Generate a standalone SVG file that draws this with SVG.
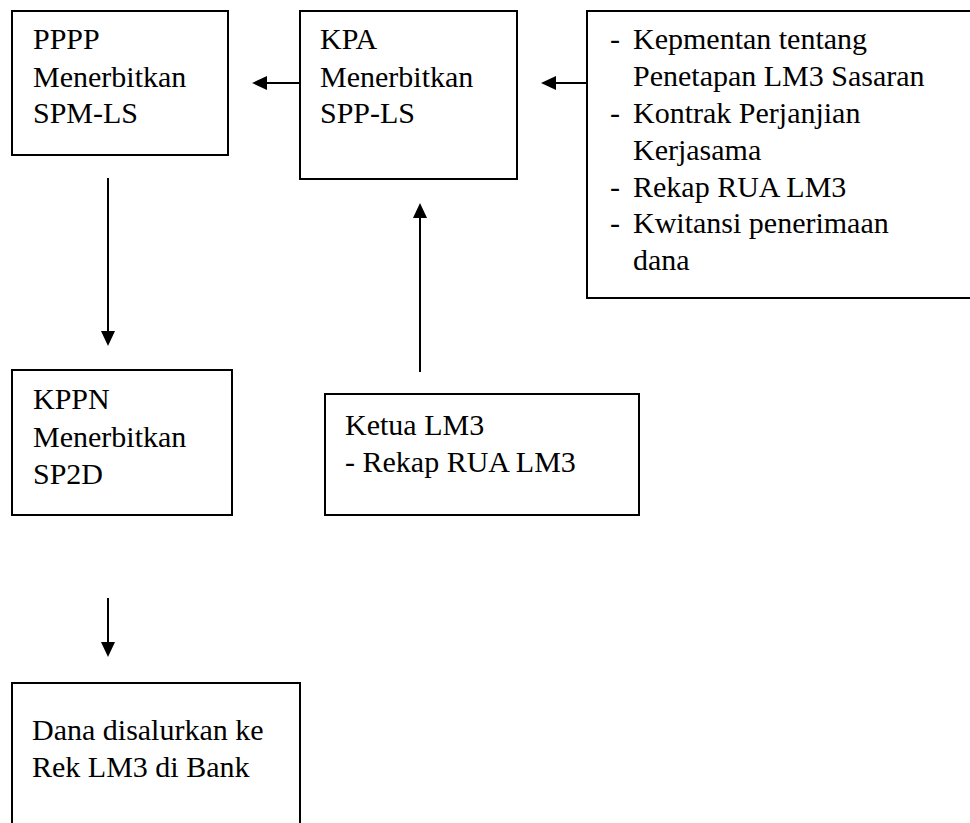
<svg xmlns="http://www.w3.org/2000/svg" width="970" height="823" viewBox="0 0 970 823" font-family="Liberation Serif" font-size="30">
<rect width="970" height="823" fill="#fff"/>
<g id="pppp">
<rect x="12" y="11" width="216" height="144" fill="#fff" stroke="#000" stroke-width="2"/>
<text x="33" y="49">PPPP</text>
<text x="33" y="87">Menerbitkan</text>
<text x="33" y="123">SPM-LS</text>
</g>
<g id="kpa">
<rect x="300" y="11" width="217" height="168" fill="#fff" stroke="#000" stroke-width="2"/>
<text x="320" y="49">KPA</text>
<text x="320" y="87">Menerbitkan</text>
<text x="320" y="123">SPP-LS</text>
</g>
<g id="dokumen">
<rect x="587" y="11" width="400" height="287" fill="#fff" stroke="#000" stroke-width="2"/>
<text x="610" y="49">-</text>
<text x="633" y="49">Kepmentan tentang</text>
<text x="633" y="86">Penetapan LM3 Sasaran</text>
<text x="610" y="123">-</text>
<text x="633" y="123">Kontrak Perjanjian</text>
<text x="633" y="160">Kerjasama</text>
<text x="610" y="197">-</text>
<text x="633" y="197">Rekap RUA LM3</text>
<text x="610" y="233">-</text>
<text x="633" y="233">Kwitansi penerimaan</text>
<text x="633" y="270">dana</text>
</g>
<g id="kppn">
<rect x="12" y="370" width="220" height="145" fill="#fff" stroke="#000" stroke-width="2"/>
<text x="33" y="409">KPPN</text>
<text x="33" y="447">Menerbitkan</text>
<text x="33" y="484">SP2D</text>
</g>
<g id="ketua">
<rect x="325" y="394" width="314" height="121" fill="#fff" stroke="#000" stroke-width="2"/>
<text x="345" y="435">Ketua LM3</text>
<text x="345" y="472">- Rekap RUA LM3</text>
</g>
<g id="dana">
<rect x="12" y="683" width="288" height="160" fill="#fff" stroke="#000" stroke-width="2"/>
<text x="32" y="740">Dana disalurkan ke</text>
<text x="32" y="777">Rek LM3 di Bank</text>
</g>
<g id="connectors" stroke="#000" stroke-width="2" fill="#000">
<line x1="300" y1="83" x2="264" y2="83"/>
<polygon points="252,83 267,76 267,90" stroke="none"/>
<line x1="587" y1="83" x2="553" y2="83"/>
<polygon points="541,83 556,76 556,90" stroke="none"/>
<line x1="108" y1="178" x2="108" y2="334"/>
<polygon points="108,346 101,331 115,331" stroke="none"/>
<line x1="420" y1="372" x2="420" y2="215"/>
<polygon points="420,203 413,218 427,218" stroke="none"/>
<line x1="108" y1="598" x2="108" y2="645"/>
<polygon points="108,657 101,642 115,642" stroke="none"/>
</g>
</svg>
